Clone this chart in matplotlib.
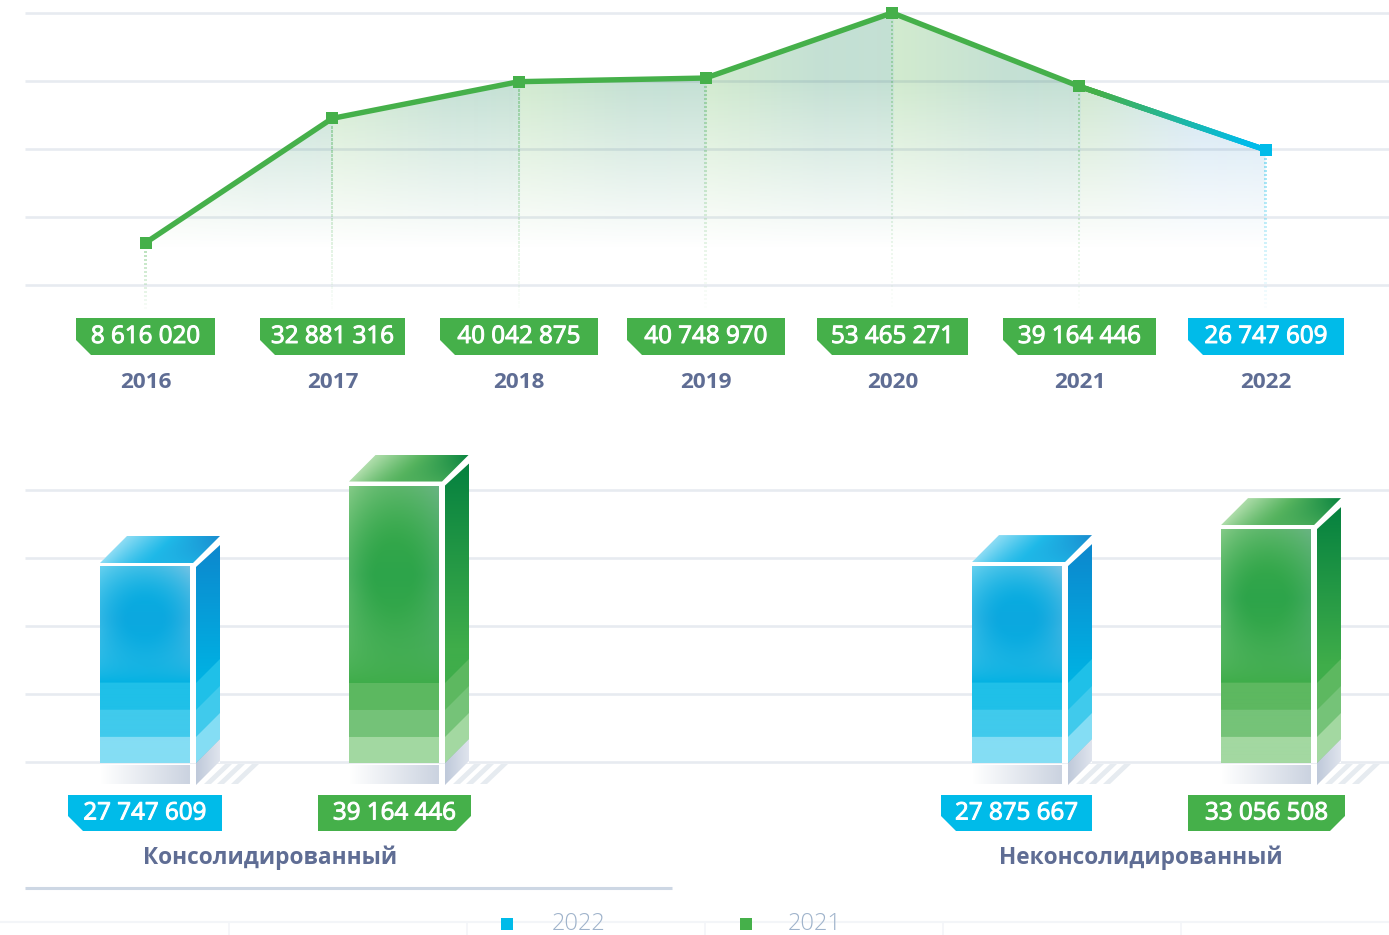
import numpy as np
import matplotlib
matplotlib.use('Agg')
from matplotlib import pyplot as plt
from matplotlib import patheffects as pe
from matplotlib.colors import to_rgb
from matplotlib.collections import LineCollection
from matplotlib.patches import Polygon

plt.rcParams['font.family'] = ['Open Sans', 'DejaVu Sans']

# Данные
years = ['2016', '2017', '2018', '2019', '2020', '2021', '2022']
values = [8616020, 32881316, 40042875, 40748970, 53465271, 39164446, 26747609]
value_labels = ['8 616 020', '32 881 316', '40 042 875', '40 748 970', '53 465 271', '39 164 446', '26 747 609']

group_names = ['Консолидированный', 'Неконсолидированный']
bar_years = ['2022', '2021', '2022', '2021']
bar_values = [27747609, 39164446, 27875667, 33056508]
bar_labels = ['27 747 609', '39 164 446', '27 875 667', '33 056 508']

grid_top = [400000, 13660000, 26920000, 40180000, 53440000]
grid_bottom = [140000, 9670000, 19200000, 28730000, 38260000]

legend_years = ['2022', '2021']

# Оформление
W, H = 1389, 935
GREEN = '#45B04A'
BLUE = '#00BBE9'
TEXT = '#5F6D94'
GRID = '#2A4A7A'

K_TOP = 195019.0     # единиц на пиксель
K_BAR = 140138.0
ZERO_TOP = 287.0     # пиксель нуля
ZERO_BAR = 763.0
X0_TOP, DX_TOP = 145.5, 186.67

tag_top = [(76, 215), (260, 405), (440, 598), (627, 785), (817, 968), (1003, 1156), (1188, 1344)]
tag_bar = [(68, 222, 'l'), (318, 471, 'r'), (941, 1092, 'l'), (1188, 1345, 'r')]
bar_left = [100, 349, 972, 1221]
bar_width = 90
group_x = [270, 1141]

PALETTE = {
    '2022': dict(base='#00B5E4', deep='#0CA8DF', edge_l='#93DFF5', edge_r='#A5CBE6',
                 bands=['#1FC0E8', '#40CAEC', '#84DDF4'],
                 side_top='#0D86CD', side_low='#00B2E3',
                 lid=['#8CDCF4', '#1FB9E8', '#1A8CCF']),
    '2021': dict(base='#45B04A', deep='#2DA44A', edge_l='#A5D9A3', edge_r='#7DB89C',
                 bands=['#5DB860', '#75C378', '#A3D8A1'],
                 side_top='#04803F', side_low='#3FAD4A',
                 lid=['#AEDDAA', '#55B35E', '#08833F']),
}


def rgb(c):
    return np.array(to_rgb(c))


def lerp(a, b, t):
    return a + (b - a) * t


fig = plt.figure(figsize=(W / 100, H / 100), dpi=100)
ax_top = fig.add_axes([0, 0, 1, 1])
ax_bar = fig.add_axes([0, 0, 1, 1])
ax = fig.add_axes([0, 0, 1, 1])
for a in (ax_top, ax_bar, ax):
    a.axis('off')
    a.patch.set_alpha(0)

xs = np.arange(len(years))

# Верхний график: заливка
top_poly = [(xs[0], 0)] + list(zip(xs, values)) + [(xs[-1], 0)]
clip = Polygon(top_poly, closed=True, transform=ax_top.transData, fc='none', ec='none')
ax_top.add_patch(clip)

px_w = int(DX_TOP * (len(years) - 1))
px_y = np.arange(0, 260)
col = np.linspace(0, len(years) - 1, px_w, endpoint=False)
seg = np.floor(col).astype(int)
t = (col - seg)[None, :, None]
light = np.where((seg == 5)[None, :, None], rgb('#CFE8CE'), rgb('#D2EBCF'))
dark = np.where((seg == 5)[None, :, None], rgb('#CFE4F2'), rgb('#C4E0D4'))
img = np.zeros((len(px_y), px_w, 4))
img[:, :, :3] = lerp(light, dark, np.clip(t * 1.6, 0, 1))
img[:, :, 3] = (np.clip((247 - px_y) / 167.0, 0, 1))[:, None]
im = ax_top.imshow(img, aspect='auto', interpolation='bilinear', zorder=1,
                   extent=[xs[0], xs[-1], (ZERO_TOP - 260) * K_TOP, ZERO_TOP * K_TOP])
im.set_clip_path(clip)

ax_top.hlines(grid_top, (25 - X0_TOP) / DX_TOP, (W - X0_TOP) / DX_TOP, color=GRID, alpha=0.11, lw=1.9, zorder=2)

# Пунктир от точек вниз
for x, v, y in zip(xs, values, years):
    c = to_rgb(BLUE if y == '2022' else GREEN)
    y_start = ZERO_TOP - v / K_TOP
    py = np.arange(y_start + 9, 309, 4.0)
    a_dot = 0.4 * ((312 - py) / (312 - y_start)) ** 0.9
    ax_top.scatter(np.full_like(py, x, dtype=float), (ZERO_TOP - py) * K_TOP, s=3.2, marker='s',
                   color=[(*c, q) for q in a_dot], linewidths=0, zorder=3)

# Линия
ax_top.plot(xs[:-1], values[:-1], color=GREEN, lw=3.9, solid_joinstyle='miter', zorder=4)
n = 60
fx = np.linspace(xs[-2], xs[-1], n + 1)
fy = np.linspace(values[-2], values[-1], n + 1)
pieces = [[(fx[i], fy[i]), (fx[i + 1], fy[i + 1])] for i in range(n)]
piece_colors = [lerp(rgb(GREEN), rgb(BLUE), np.clip((i / n - 0.1) / 0.8, 0, 1)) for i in range(n)]
ax_top.add_collection(LineCollection(pieces, colors=piece_colors, linewidths=3.9, capstyle='projecting', zorder=4))
for x, v, y in zip(xs, values, years):
    ax_top.plot([x], [v], 's', ms=8.8, mew=0, color=BLUE if y == '2022' else GREEN, zorder=5)

ax_top.set_xlim(-X0_TOP / DX_TOP, (W - X0_TOP) / DX_TOP)
ax_top.set_ylim((ZERO_TOP - H) * K_TOP, ZERO_TOP * K_TOP)

# Нижний график
ax_bar.hlines(grid_bottom, 25, W, color=GRID, alpha=0.11, lw=1.9, zorder=1)


def draw_bar(left, value, year):
    p = PALETTE[year]
    k = K_BAR
    depth_x, depth_y = 24, 24
    right = left + bar_width
    side_l = right + 6
    side_r = side_l + depth_x
    top = value / k              # высота в пикселях

    # белая подложка
    ax_bar.add_patch(Polygon([(left, 0), (left, (top + 2) * k), (left + 27, (top + 29) * k), (side_r, (top + 29) * k),
                              (side_r, 0)], fc='white', ec='none', zorder=2))

    # передняя грань
    h = int(top - 2)
    yy = (np.arange(h) + 0.5)[:, None]       # от верха
    uu = ((np.arange(bar_width) + 0.5) / bar_width)[None, :]
    solid = h - 80
    cy = solid * 0.45
    r = np.sqrt(((uu - 0.5) / 0.75) ** 2 + ((yy - cy) / (cy * 1.25)) ** 2)
    fade = np.clip((r - 0.25) / 1.0, 0, 1) ** 1.5 * np.clip((solid - yy) / (solid * 0.45), 0, 1)
    core = np.clip(1 - np.abs(yy - cy) / (solid * 0.75), 0, 1)[:, :, None]
    front = np.zeros((h, bar_width, 3))
    front[:] = lerp(rgb(p['base']), rgb(p['deep']), core)
    edge = lerp(rgb(p['edge_l'])[None, None, :], rgb(p['edge_r'])[None, None, :], uu[:, :, None])
    front = lerp(front, edge, fade[:, :, None])
    for i, c in enumerate(p['bands']):
        front[h - 80 + 27 * i if i else h - 80:, :, :] = rgb(c)
    ax_bar.imshow(front, aspect='auto', extent=[left, right, 0, h * k], zorder=3, interpolation='bilinear')

    # боковая грань
    side = np.zeros((int(top + 24), depth_x, 3))
    sh = side.shape[0]
    side_y = np.arange(sh) / max(sh - 1, 1)
    side_y = np.clip(side_y / 0.62, 0, 1)[:, None, None]
    side[:] = lerp(rgb(p['side_top']), rgb(p['side_low']), side_y)
    side_poly = [(side_l, 0), (side_l, (top - 2) * k), (side_r, (top + 20) * k), (side_r, 24 * k)]
    sp = Polygon(side_poly, transform=ax_bar.transData, fc='none', ec='none')
    ax_bar.add_patch(sp)
    s_img = ax_bar.imshow(side, aspect='auto', extent=[side_l, side_r, 0, (top + 24) * k], zorder=3)
    s_img.set_clip_path(sp)
    for i, c in enumerate(p['bands']):
        low = 80 - 27 * i
        ax_bar.add_patch(Polygon([(side_l, low * k), (side_r, (low + depth_y) * k),
                                  (side_r, (depth_y + 0) * k), (side_l, 0)], fc=c, ec='none', zorder=4))

    # верхняя грань
    lid_h, lid_w = 27, side_r - left
    v = (np.arange(lid_h) / lid_h)[:, None]
    u = (np.arange(lid_w) / lid_w)[None, :]
    s = np.clip((u - 0.22 * (1 - v)) / 0.78, 0, 1)[:, :, None]
    c0, c1, c2 = [rgb(c) for c in p['lid']]
    lid = np.where(s < 0.5, lerp(c0, c1, s * 2), lerp(c1, c2, (s - 0.5) * 2))
    lid = lerp(lid, c1[None, None, :], v[:, :, None] * np.clip(s * 1.5, 0, 1) * 0.8)
    lp = Polygon([(left, (top + 2) * k), (left + 27, (top + 29) * k), (side_r, (top + 29) * k), (right + 3, (top + 2) * k)],
                 transform=ax_bar.transData, fc='none', ec='none')
    ax_bar.add_patch(lp)
    l_img = ax_bar.imshow(lid, aspect='auto', extent=[left, side_r, (top + 2) * k, (top + 29) * k], zorder=3)
    l_img.set_clip_path(lp)


for left, v, y in zip(bar_left, bar_values, bar_years):
    draw_bar(left, v, y)

ax_bar.set_xlim(0, W)
ax_bar.set_ylim((ZERO_BAR - H) * K_BAR, ZERO_BAR * K_BAR)

# Подписи, тени и легенда в пикселях
ax.set_xlim(0, W)
ax.set_ylim(H, 0)

thick = [pe.withStroke(linewidth=0.7, foreground='white')]


def tag(x0, x1, y0, y1, text, color, notch='l'):
    c = 15
    if notch == 'l':
        pts = [(x0, y0), (x1, y0), (x1, y1), (x0 + c, y1), (x0, y1 - c)]
    else:
        pts = [(x0, y0), (x1, y0), (x1, y1 - c), (x1 - c, y1), (x0, y1)]
    ax.add_patch(Polygon(pts, fc=color, ec='none', zorder=5))
    ax.text((x0 + x1) / 2, (y0 + y1) / 2 + 0.5, text, color='white', fontsize=17.4,
            ha='center', va='center', zorder=6, path_effects=thick)


for (x0, x1), lab, y in zip(tag_top, value_labels, years):
    tag(x0, x1, 318, 355, lab, BLUE if y == '2022' else GREEN)
    ax.text((x0 + x1) / 2, 382, y, color=TEXT, fontsize=16.2, fontweight='bold', ha='center', va='center')

for (x0, x1, nt), lab, y in zip(tag_bar, bar_labels, bar_years):
    tag(x0, x1, 795, 831, lab, BLUE if y == '2022' else GREEN, nt)

for gx, name in zip(group_x, group_names):
    ax.text(gx, 858, name, color=TEXT, fontsize=16.3, fontweight='bold', ha='center', va='center')

# Тени под столбцами
for left, y in zip(bar_left, bar_years):
    shade = np.ones((1, 90, 3)) * np.linspace(0, 1, 90)[None, :, None] * (rgb('#CBD3E0') - 1) + 1
    ax.imshow(shade, aspect='auto', extent=[left, left + 90, 784, 765], zorder=3)
    sl = left + 96
    grey = np.ones((40, 24, 3))
    grey[:] = lerp(rgb('#BFC9DA'), rgb('#DFE4ED'), np.linspace(0, 1, 24)[None, :, None])
    gp = Polygon([(sl, 763), (sl + 24, 739), (sl + 24, 761), (sl, 785)], fc='none', ec='none', transform=ax.transData)
    ax.add_patch(gp)
    gi = ax.imshow(grey, aspect='auto', extent=[sl, sl + 24, 785, 739], zorder=4)
    gi.set_clip_path(gp)
    for off in (8, 21, 35):
        ax.add_patch(Polygon([(sl + off, 784), (sl + off + 7, 784), (sl + off + 28, 764), (sl + off + 21, 764)],
                             fc='#E6EBF0', ec='none', zorder=2))

# Нижняя полоса и легенда
ax.plot([25, 672], [887.5, 887.5], color='#CDD7E4', lw=2.2, solid_capstyle='butt')
ax.plot([0, W], [921.5, 921.5], color='#F3F5F8', lw=1.5)
ax.vlines([229, 467, 705, 943, 1181], 921, H, color='#F3F5F8', lw=1.2)
for mx, tx, y in zip([507, 746], [579, 815], legend_years):
    ax.add_patch(Polygon([(mx - 6, 918), (mx + 6, 918), (mx + 6, 930), (mx - 6, 930)],
                         fc=BLUE if y == '2022' else GREEN, ec='none', zorder=5))
    ax.text(tx, 930, y, color='#9FB3CB', fontsize=17, fontweight='light', ha='center', va='baseline')

ax.set_xlim(0, W)
ax.set_ylim(H, 0)

fig.savefig('out.png', dpi=100, facecolor='white')
